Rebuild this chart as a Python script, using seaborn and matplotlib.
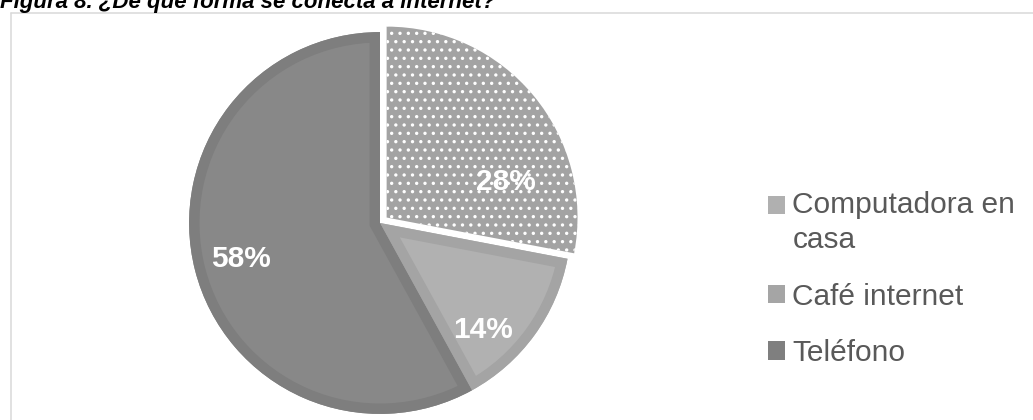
import numpy as np
import matplotlib
matplotlib.use("Agg")
import matplotlib.pyplot as plt
import seaborn as sns
from matplotlib.patches import Wedge, Patch, Rectangle
from matplotlib.lines import Line2D
from matplotlib.legend_handler import HandlerPatch

# ---- data -------------------------------------------------------------
categories = ["Computadora en\ncasa", "Café internet", "Teléfono"]
shares = [28, 14, 58]
title = "Figura 8. ¿De qué forma se conecta a internet?"

# ---- styling ----------------------------------------------------------
fill_colors = ["#a3a3a3", "#b1b1b1", "#888888"]
rim_colors = [None, "#a4a4a4", "#7e7e7e"]
legend_colors = ["#b0b0b0", "#a5a5a5", "#7f7f7f"]
hatches = ["..", "", ""]
explode = [0.045, 0, 0]
label_shift = [-23, -10, 0]     # degrees, relative to slice mid-angle
label_dist = [0.65, 0.78, 0.75]

sns.set_theme(style="white")
plt.rcParams["font.family"] = ["Liberation Sans", "DejaVu Sans"]
plt.rcParams["hatch.color"] = "white"
plt.rcParams["hatch.linewidth"] = 1.2

W, H = 1033, 420
fig = plt.figure(figsize=(W / 100, H / 100), dpi=100)
fig.patch.set_facecolor("white")

# chart border (light grey frame)
frame_kw = dict(color="#d9d9d9", linewidth=1.1, transform=fig.transFigure)
fig.add_artist(Line2D([11 / W, 11 / W], [-0.01, (H - 13) / H], **frame_kw))
fig.add_artist(Line2D([11 / W, 1.01], [(H - 13) / H, (H - 13) / H], **frame_kw))

# title
fig.text(0.0, (H - 8) / H, title, ha="left", va="baseline",
         fontsize=16, fontweight="bold", fontstyle="italic", color="black")

# ---- pie --------------------------------------------------------------
cx, cy, side = 380, 223, 420
ax = fig.add_axes([(cx - side / 2) / W, (H - cy - side / 2) / H, side / W, side / H])

wedges, _, autotexts = ax.pie(
    shares, colors=fill_colors, startangle=90, counterclock=False,
    explode=explode, hatch=hatches, autopct="%1.0f%%", pctdistance=0.78,
    wedgeprops=dict(linewidth=0),
    textprops=dict(color="white", fontsize=21.5, fontweight="bold"),
)
ax.set_xlim(-1.1, 1.1)
ax.set_ylim(-1.1, 1.1)
ax.set_aspect("equal")
ax.axis("off")

# darker inner rim on the plain slices
for w, rim in zip(wedges, rim_colors):
    if rim is None:
        continue
    band = Wedge(w.center, w.r, w.theta1, w.theta2, facecolor="none",
                 edgecolor=rim, linewidth=15)
    ax.add_patch(band)
    band.set_clip_path(w)

# percentage labels
for w, t, s, d in zip(wedges, autotexts, label_shift, label_dist):
    ang = np.deg2rad((w.theta1 + w.theta2) / 2 + s)
    t.set_position((w.center[0] + d * w.r * np.cos(ang),
                    w.center[1] + d * w.r * np.sin(ang)))
    t.set_ha("center")
    t.set_va("center")

# ---- legend -----------------------------------------------------------
fs = 21.5
line_spacing = 1.35
line_step = (0.21 + 0.73 * line_spacing) * fs


def first_line_patch(legend, orig_handle, xdescent, ydescent, width, height, fontsize):
    lift = 0.5 * line_step * orig_handle.get_label().count("\n")
    return Rectangle((-xdescent, -ydescent + lift), width, height)


handles = []
for lab, col in zip(categories, legend_colors):
    handles.append(Patch(facecolor=col, edgecolor="none", label=lab))

leg = fig.legend(
    handles=handles, labels=categories, loc="center left",
    bbox_to_anchor=(768 / W, (H - 279) / H), frameon=False,
    fontsize=fs, labelcolor="#595959",
    handlelength=0.57, handleheight=0.57, handletextpad=0.25,
    labelspacing=0.95, borderpad=0, borderaxespad=0,
    handler_map={Patch: HandlerPatch(patch_func=first_line_patch)},
)
for t in leg.get_texts():
    t.set_linespacing(line_spacing)

fig.savefig("out.png", dpi=100, facecolor="white")
